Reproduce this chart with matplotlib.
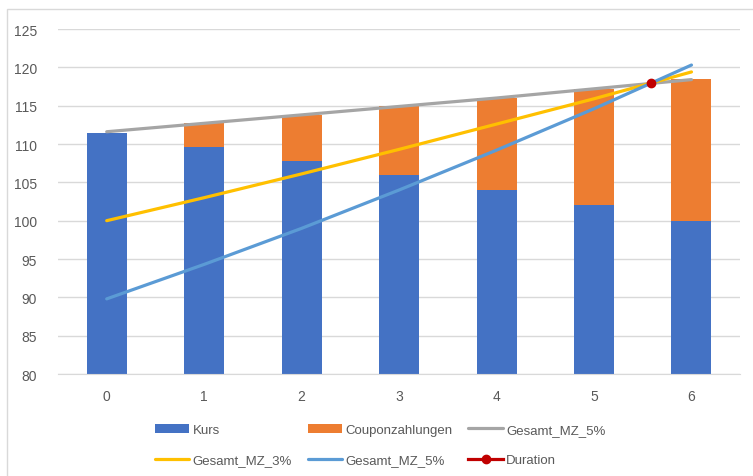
import numpy as np
import matplotlib
matplotlib.use('Agg')
import matplotlib.pyplot as plt
from matplotlib.patches import Rectangle

plt.rcParams['font.family'] = ['Liberation Sans Narrow', 'Liberation Sans', 'DejaVu Sans']

# data
jahre = [0, 1, 2, 3, 4, 5, 6]
kurs = [111.5, 109.6, 107.8, 105.9, 104.0, 102.0, 100.0]
coupon = [0.0, 3.1, 6.0, 9.0, 12.0, 15.2, 18.5]
gesamt_5_oben = [111.6, 112.7, 113.8, 114.9, 116.0, 117.2, 118.4]
gesamt_3 = [100.0, 103.0, 106.1, 109.3, 112.6, 115.9, 119.4]
gesamt_5 = [89.8, 94.3, 99.0, 104.0, 109.2, 114.6, 120.3]
duration_x = [5.58]
duration_y = [118.0]

c_kurs = '#4472C4'
c_coupon = '#ED7D31'
c_grau = '#A5A5A5'
c_gelb = '#FFC000'
c_blau = '#5B9BD5'
c_rot = '#C00000'
c_text = '#595959'

fig = plt.figure(figsize=(7.53, 4.77), dpi=100)
ax = fig.add_axes([0.077, 0.2138, 0.906, 0.7233])

# chart frame like the excel chart area
fig.patches.append(Rectangle((0.009, -0.05), 1.1, 1.03, transform=fig.transFigure,
                             fill=False, edgecolor='#D9D9D9', linewidth=1.0))

x = np.array(jahre)
b1 = ax.bar(x, kurs, width=0.41, color=c_kurs, zorder=2)
b2 = ax.bar(x, coupon, width=0.41, bottom=kurs, color=c_coupon, zorder=2)
l1, = ax.plot(x, gesamt_5_oben, color=c_grau, lw=2.3, zorder=3, solid_capstyle='round')
l2, = ax.plot(x, gesamt_3, color=c_gelb, lw=2.3, zorder=3, solid_capstyle='round')
l3, = ax.plot(x, gesamt_5, color=c_blau, lw=2.3, zorder=3, solid_capstyle='round')
l4, = ax.plot(duration_x, duration_y, '-o', color=c_rot, lw=2.3, ms=6, zorder=4)

ax.set_xlim(-0.5, 6.5)
ax.set_ylim(80, 125)
ax.set_yticks(np.arange(80, 126, 5))
ax.set_xticks(x)
ax.grid(axis='y', color='#D9D9D9', lw=1.0, zorder=0)
ax.set_axisbelow(True)
for s in ['top', 'right', 'left']:
    ax.spines[s].set_visible(False)
ax.spines['bottom'].set_color('#D9D9D9')
ax.tick_params(length=0, labelsize=10, colors=c_text)
ax.tick_params(axis='x', pad=11)
ax.tick_params(axis='y', pad=15)

handles = [b1, l2, b2, l3, l1, l4]
labels = ['Kurs', 'Gesamt_MZ_3%', 'Couponzahlungen', 'Gesamt_MZ_5%', 'Gesamt_MZ_5%', 'Duration']
leg = fig.legend(handles, labels, ncol=3, loc='center', bbox_to_anchor=(0.505, 0.065),
                 frameon=False, fontsize=9.5, handlelength=2.6, handletextpad=0.25,
                 columnspacing=1.2, labelspacing=1.35, labelcolor=c_text)

fig.savefig('out.png', dpi=100)
